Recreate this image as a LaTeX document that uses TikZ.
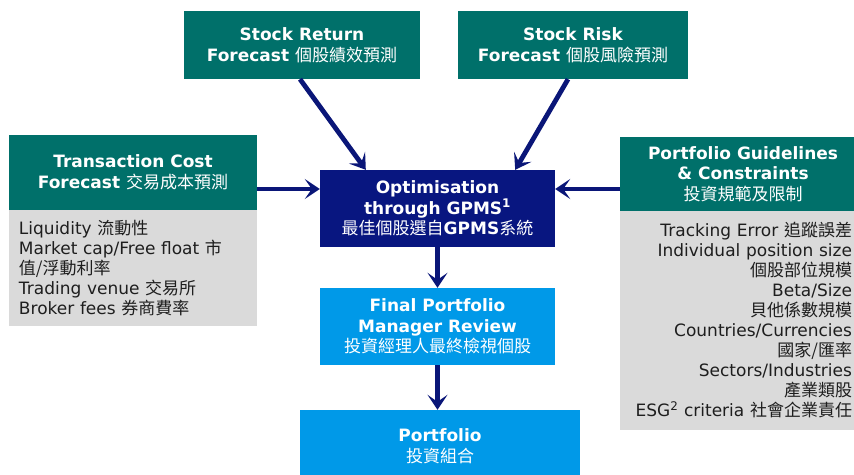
\documentclass[tikz,border=0pt]{standalone}
\usepackage{fontspec}
\setmainfont{DejaVu Sans}
\newfontfamily\cjk{Noto Sans CJK TC}
\usetikzlibrary{arrows.meta,calc}

\definecolor{hdteal}{RGB}{0,112,106}
\definecolor{optnavy}{RGB}{8,22,128}
\definecolor{revblue}{RGB}{0,153,232}
\definecolor{listgray}{RGB}{218,218,218}
\definecolor{flownavy}{RGB}{10,22,120}
\definecolor{listtext}{RGB}{30,30,30}

\newcommand\zhtxt[1]{{\cjk\mdseries #1}}

\begin{document}
\begin{tikzpicture}[x=1pt,y=-1pt,
  headbox/.style={rectangle, inner sep=0pt, align=center, text=white,
    font=\bfseries\fontsize{17}{20.5}\selectfont},
  tealbox/.style={headbox, fill=hdteal},
  navybox/.style={headbox, fill=optnavy},
  bluebox/.style={headbox, fill=revblue},
  listbox/.style={rectangle, fill=listgray, inner ysep=0pt, text=listtext,
    font=\fontsize{17}{20}\selectfont},
  flow/.style={draw=flownavy, line width=4.8pt,
    -{Stealth[length=15pt,width=20pt,inset=7pt]}}
]
\useasboundingbox (0,0) rectangle (854,474);
\clip (0,0) rectangle (854,474);

% forecast inputs at the top
\node[tealbox, minimum width=236pt, minimum height=68pt] (sr) at (302,45)
  {Stock Return\\Forecast \zhtxt{個股績效預測}};
\node[tealbox, minimum width=230pt, minimum height=68pt] (rk) at (573,45)
  {Stock Risk\\Forecast \zhtxt{個股風險預測}};

% transaction cost block on the left
\node[tealbox, minimum width=248pt, minimum height=75pt] (tc) at (133,172.5)
  {Transaction Cost\\Forecast \zhtxt{交易成本預測}};
\node[listbox, minimum width=248pt, minimum height=116pt, text width=228pt,
  inner xsep=10pt, align=left] (tcl) at (133,268)
  {Liquidity \zhtxt{流動性}\\
   Market cap/Free float \zhtxt{市}\\
   \zhtxt{值/浮動利率}\\
   Trading venue \zhtxt{交易所}\\
   Broker fees \zhtxt{券商費率}};

% guidelines block on the right (runs past the right border)
\node[tealbox, minimum width=246pt, minimum height=74pt] (pg) at (743,174)
  {Portfolio Guidelines\\\& Constraints\\\zhtxt{投資規範及限制}};
\node[listbox, minimum width=246pt, minimum height=219pt, text width=218pt,
  inner xsep=14pt, align=right] (pgl) at (743,320.5)
  {Tracking Error \zhtxt{追蹤誤差}\\
   Individual position size\\
   \zhtxt{個股部位規模}\\
   Beta/Size\\
   \zhtxt{貝他係數規模}\\
   Countries/Currencies\\
   \zhtxt{國家/匯率}\\
   Sectors/Industries\\
   \zhtxt{產業類股}\\
   ESG\textsuperscript{2} criteria \zhtxt{社會企業責任}};

% central process
\node[navybox, minimum width=235pt, minimum height=77pt] (opt) at (437.5,208.5)
  {Optimisation\\through GPMS\textsuperscript{1}\\\zhtxt{最佳個股選自}GPMS\zhtxt{系統}};
\node[bluebox, minimum width=235pt, minimum height=77pt] (fin) at (437.5,326.5)
  {Final Portfolio\\Manager Review\\\zhtxt{投資經理人最終檢視個股}};
\node[bluebox, minimum width=280pt, minimum height=72pt] (port) at (440,446)
  {Portfolio\\\zhtxt{投資組合}};

% connectors
\draw[flow] ($(sr.south)+(-2,0)$) -- ($(opt.north west)+(46,0)$);
\draw[flow] ($(rk.south)+(-5,0)$) -- ($(opt.north east)+(-40,0)$);
\draw[flow] ($(tc.east)+(0,16.5)$) -- (opt.west |- {$(tc.east)+(0,16.5)$});
\draw[flow] ($(pg.west)+(0,15)$) -- (opt.east |- {$(pg.west)+(0,15)$});
\draw[flow] (opt.south) -- (fin.north);
\draw[flow] (fin.south) -- (port.north -| fin.south);
\end{tikzpicture}
\end{document}
